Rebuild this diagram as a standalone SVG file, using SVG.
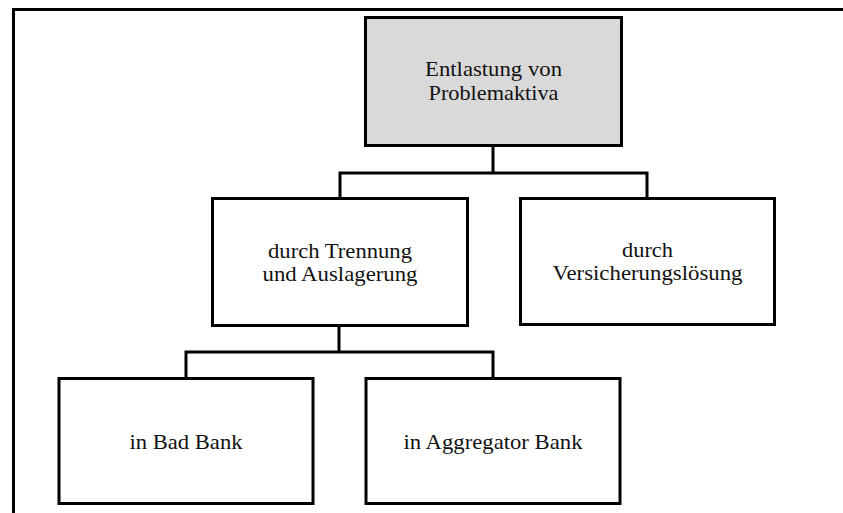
<svg xmlns="http://www.w3.org/2000/svg" width="843" height="513" viewBox="0 0 843 513">
  <style>
    .box { fill: #ffffff; stroke: #000000; stroke-width: 3; }
    .root { fill: #d9d9d9; }
    .lbl { font-family: "Liberation Serif", "Times New Roman", serif; font-size: 22px; fill: #111111; text-anchor: middle; }
    .wire { fill: none; stroke: #000000; stroke-width: 3; }
  </style>
  <rect width="843" height="513" fill="#ffffff"/>
  <!-- outer frame (top and left edges) -->
  <path d="M13.5 513 V9.5 H843" fill="none" stroke="#000000" stroke-width="3"/>

  <g id="connectors">
    <path class="wire" d="M493 146 V173 M340 198 V173 H647 V198"/>
    <path class="wire" d="M339 326 V352 M186 378 V352 H493 V378"/>
  </g>

  <g id="root">
    <rect class="box root" x="365.5" y="17.5" width="256" height="128"/>
    <text class="lbl" x="493.5" y="76" textLength="137" lengthAdjust="spacingAndGlyphs">Entlastung von</text>
    <text class="lbl" x="493.5" y="100" textLength="130" lengthAdjust="spacingAndGlyphs">Problemaktiva</text>
  </g>

  <g id="separation">
    <rect class="box" x="212.5" y="198.5" width="255" height="127"/>
    <text class="lbl" x="340" y="258" textLength="144" lengthAdjust="spacingAndGlyphs">durch Trennung</text>
    <text class="lbl" x="340" y="281" textLength="155" lengthAdjust="spacingAndGlyphs">und Auslagerung</text>
  </g>

  <g id="insurance">
    <rect class="box" x="520.5" y="198.5" width="254" height="126"/>
    <text class="lbl" x="647.5" y="257" textLength="51" lengthAdjust="spacingAndGlyphs">durch</text>
    <text class="lbl" x="647.5" y="280" textLength="190" lengthAdjust="spacingAndGlyphs">Versicherungslösung</text>
  </g>

  <g id="badbank">
    <rect class="box" x="59" y="378.5" width="254" height="125"/>
    <text class="lbl" x="186" y="449" textLength="113" lengthAdjust="spacingAndGlyphs">in Bad Bank</text>
  </g>

  <g id="aggregator">
    <rect class="box" x="366" y="378.5" width="254" height="125"/>
    <text class="lbl" x="493" y="449" textLength="179" lengthAdjust="spacingAndGlyphs">in Aggregator Bank</text>
  </g>
</svg>
